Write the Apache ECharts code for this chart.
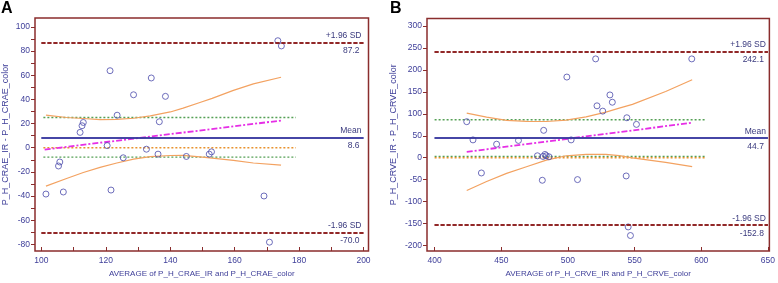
<!DOCTYPE html>
<html>
<head>
<meta charset="utf-8">
<script src="https://cdn.jsdelivr.net/npm/echarts@6/dist/echarts.min.js"></script>
<style>
  html, body { margin: 0; padding: 0; background: #fff; }
  #chart { width: 778px; height: 283px; }
</style>
</head>
<body>
<div id="chart"></div>
<script>
// panel A: CRAE
var aAvg = [101.4, 105.3, 105.7, 106.8, 112.0, 112.6, 113.0, 121.3, 120.4, 121.6, 123.5, 125.4, 128.6,
  132.6, 134.1, 136.2, 136.6, 138.5, 145.0, 152.1, 152.8, 169.1, 170.8, 173.4, 174.5];
var aDiff = [-38.3, -15.1, -11.8, -36.6, 12.7, 18.2, 20.9, 63.7, 1.8, -35.0, 26.9, -8.3, 43.8,
  -1.2, 57.7, -5.3, 21.5, 42.5, -7.2, -5.3, -3.4, -39.9, -78.1, 88.5, 84.2];
var aStats = { upper: 87.2, mean: 8.6, lower: -70.0, ciHi: 25.0, ciLo: -7.8 };
var aLineX = [100, 200];
var aCiX = [100.6, 179];
var aRegX = [101, 174.4];
var aRegY = [-1.5, 22.5];
var aBandX = [101.4, 107.8, 113.0, 118.2, 123.4, 128.6, 133.8, 140.0, 144.0, 149.2, 153.0, 159.6, 165.8, 174.4];
var aBandHi = [26.9, 25.0, 24.2, 23.3, 23.4, 24.4, 26.4, 29.6, 32.8, 37.4, 40.8, 47.4, 52.8, 58.3];
var aBandLo = [-31.7, -25.4, -20.5, -16.2, -12.6, -9.4, -7.4, -6.4, -6.3, -7.5, -8.6, -10.4, -12.6, -14.3];
var aXTicks = [100, 110, 120, 130, 140, 150, 160, 170, 180, 190, 200];
var aXLabels = [100, 120, 140, 160, 180, 200];
var aYTicks = [-80, -70, -60, -50, -40, -30, -20, -10, 0, 10, 20, 30, 40, 50, 60, 70, 80, 90, 100];
var aYLabels = [-80, -60, -40, -20, 0, 20, 40, 60, 80, 100];

// panel B: CRVE
var bAvg = [424.1, 428.8, 435.1, 446.5, 462.9, 477.1, 481.3, 481.8, 482.8, 483.8, 485.8, 480.8, 499.2,
  502.4, 507.2, 520.8, 521.8, 526.1, 531.5, 533.3, 544.2, 543.7, 545.2, 546.9, 551.4, 592.9];
var bDiff = [82.1, 40.6, -34.8, 30.8, 39.4, 4.4, 2.9, 62.4, 7.4, 4.4, 2.1, -51.4, 183.9,
  40.6, -49.9, 225.3, 118.3, 106.2, 143.1, 126.5, 91.1, -41.6, -157.8, -177.4, 76.0, 225.3];
var bStats = { upper: 242.1, mean: 44.7, lower: -152.8, ciHi: 86.5, ciLo: 2.9 };
var bLineX = [400, 650];
var bCiX = [400, 604];
var bRegX = [424.1, 593.2];
var bRegY = [13.4, 79.8];
var bBandX = [424.1, 439.0, 454.0, 468.9, 483.8, 498.7, 513.6, 528.5, 538.5, 548.4, 573.3, 593.2];
var bBandHi = [101.7, 92.6, 85.1, 82.8, 82.6, 85.6, 93.0, 104.0, 113.0, 121.5, 151.0, 177.8];
var bBandLo = [-74.8, -54.4, -35.6, -20.5, -5.4, 4.4, 7.4, 7.4, 4.8, -0.2, -10.7, -20.5];
var bXTicks = [400, 450, 500, 550, 600, 650];
var bYTicks = [-200, -150, -100, -50, 0, 50, 100, 150, 200, 250, 300];

var frameColor = '#8a2d2d';
var textColor = '#40409a';
var font = 'Liberation Sans, Arial, sans-serif';

function pairs(xs, ys) {
  return xs.map(function (x, i) { return [x, ys[i]]; });
}

function hline(xs, y) {
  return [[xs[0], y], [xs[1], y]];
}

function xAxisOf(idx, min, max, ticks, labels, name) {
  return {
    type: 'value', gridIndex: idx, min: min, max: max,
    name: name, nameLocation: 'middle', nameGap: 19,
    nameTextStyle: { color: textColor, fontSize: 8, fontFamily: font },
    axisLine: { show: false, onZero: false },
    axisTick: { show: true, inside: true, length: 4, customValues: ticks, lineStyle: { color: frameColor, width: 1 } },
    axisLabel: { customValues: labels, color: textColor, fontSize: 8.5, fontFamily: font, margin: 5 },
    splitLine: { show: false }
  };
}

function yAxisOf(idx, min, max, ticks, labels, name, gap) {
  return {
    type: 'value', gridIndex: idx, min: min, max: max,
    name: name, nameLocation: 'middle', nameGap: gap,
    nameTextStyle: { color: textColor, fontSize: 9, fontFamily: font },
    axisLine: { show: false, onZero: false },
    axisTick: { show: true, inside: false, length: 4, customValues: ticks, lineStyle: { color: frameColor, width: 1 } },
    axisLabel: { customValues: labels, color: textColor, fontSize: 8.5, fontFamily: font, margin: 5 },
    splitLine: { show: false }
  };
}

function sdMarks(xs, st) {
  var lbl = function (text, pos, dist) {
    return { show: true, position: pos, formatter: text, color: '#3a3a7e', fontSize: 8.5, fontFamily: font, distance: dist };
  };
  var sd = { color: '#8b1a1a', type: [4, 2], width: 1.6 };
  var mean = { color: '#3a3aa0', type: 'solid', width: 1.6 };
  return [
    [{ coord: [xs[0], st.upper], lineStyle: sd, label: lbl('+1.96 SD', 'insideEndTop', 2) }, { coord: [xs[1], st.upper] }],
    [{ coord: [xs[0], st.upper], lineStyle: sd, label: lbl(st.upper.toFixed(1), 'insideEndBottom', 4) }, { coord: [xs[1], st.upper] }],
    [{ coord: [xs[0], st.mean], lineStyle: mean, label: lbl('Mean', 'insideEndTop', 2) }, { coord: [xs[1], st.mean] }],
    [{ coord: [xs[0], st.mean], lineStyle: mean, label: lbl(st.mean.toFixed(1), 'insideEndBottom', 4) }, { coord: [xs[1], st.mean] }],
    [{ coord: [xs[0], st.lower], lineStyle: sd, label: lbl('-1.96 SD', 'insideEndTop', 2) }, { coord: [xs[1], st.lower] }],
    [{ coord: [xs[0], st.lower], lineStyle: sd, label: lbl(st.lower.toFixed(1), 'insideEndBottom', 4) }, { coord: [xs[1], st.lower] }]
  ];
}

function panelSeries(idx, avg, diff, st, lineX, ciX, regX, regY, bandX, bandHi, bandLo) {
  var plain = function (data, style, z) {
    return {
      type: 'line', xAxisIndex: idx, yAxisIndex: idx, data: data, symbol: 'none',
      lineStyle: style, silent: true, z: z || 2
    };
  };
  return [
    plain(hline(ciX, st.ciHi), { color: '#55a055', type: [2, 2], width: 1.3 }),
    plain(hline(ciX, st.ciLo), { color: '#55a055', type: [2, 2], width: 1.3 }),
    plain(hline(ciX, 0), { color: '#e8922e', type: [2, 2], width: 1.5 }),
    plain(pairs(bandX, bandHi), { color: '#f3a261', width: 1.2 }),
    plain(pairs(bandX, bandLo), { color: '#f3a261', width: 1.2 }),
    plain(pairs(regX, regY), { color: '#e62ee6', type: [6, 2, 2, 2], width: 1.8 }, 3),
    {
      type: 'scatter', xAxisIndex: idx, yAxisIndex: idx, data: pairs(avg, diff),
      symbol: 'circle', symbolSize: 6, z: 4,
      itemStyle: { color: 'rgba(255,255,255,0)', borderColor: '#4b4bab', borderWidth: 1 },
      markLine: { silent: true, symbol: ['none', 'none'], animation: false, data: sdMarks(lineX, st) }
    }
  ];
}

var myChart = echarts.init(document.getElementById('chart'));
var option = {
  animation: false,
  backgroundColor: '#fff',
  graphic: [
    { type: 'text', left: 1, top: 1, style: { text: 'A', font: 'bold 16px Liberation Sans, Arial, sans-serif', fill: '#000' } },
    { type: 'text', left: 390, top: 1, style: { text: 'B', font: 'bold 16px Liberation Sans, Arial, sans-serif', fill: '#000' } }
  ],
  grid: [
    { left: 35, top: 18, width: 333.5, height: 235.3, show: true, borderColor: frameColor, borderWidth: 1.5, backgroundColor: '#fff' },
    { left: 427, top: 18.5, width: 343.5, height: 234.8, show: true, borderColor: frameColor, borderWidth: 1.5, backgroundColor: '#fff' }
  ],
  xAxis: [
    xAxisOf(0, 98, 201.55, aXTicks, aXLabels, 'AVERAGE of P_H_CRAE_IR and P_H_CRAE_color'),
    xAxisOf(1, 394.3, 651.1, bXTicks, bXTicks, 'AVERAGE of P_H_CRVE_IR and P_H_CRVE_color')
  ],
  yAxis: [
    yAxisOf(0, -85.4, 107.3, aYTicks, aYLabels, 'P_H_CRAE_IR - P_H_CRAE_color', 25),
    yAxisOf(1, -212.7, 317.4, bYTicks, bYTicks, 'P_H_CRVE_IR - P_H_CRVE_color', 29)
  ],
  series: []
};
option.series = option.series
  .concat(panelSeries(0, aAvg, aDiff, aStats, aLineX, aCiX, aRegX, aRegY, aBandX, aBandHi, aBandLo))
  .concat(panelSeries(1, bAvg, bDiff, bStats, bLineX, bCiX, bRegX, bRegY, bBandX, bBandHi, bBandLo));
myChart.setOption(option, true);
</script>
</body>
</html>
